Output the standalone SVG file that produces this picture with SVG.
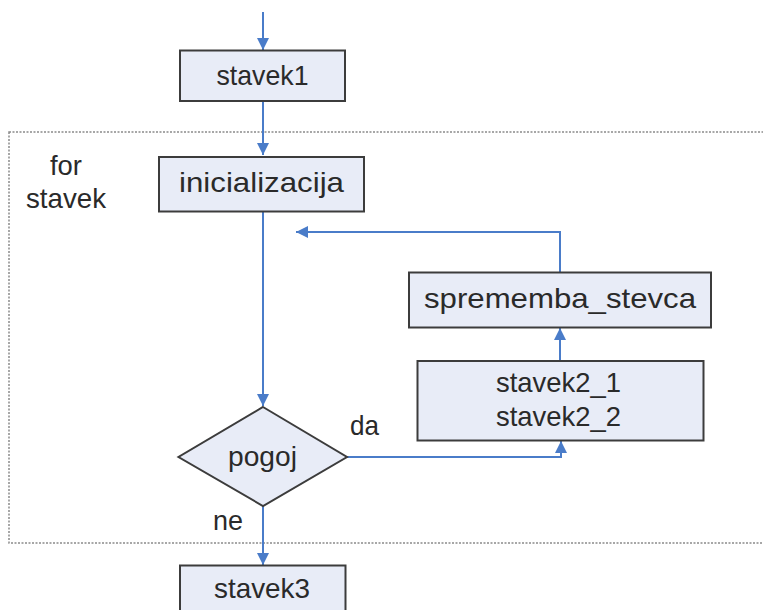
<svg xmlns="http://www.w3.org/2000/svg" width="763" height="610" viewBox="0 0 763 610">
  <style>
    .box { fill: #E8ECF7; stroke: #3C3C3C; stroke-width: 2; }
    .lbl { font-family: "Liberation Sans", Arial, sans-serif; font-size: 28px; fill: #2A2A2A; }
    .mid { text-anchor: middle; }
    .flow { fill: none; stroke: #4A7CC9; stroke-width: 2; marker-end: url(#arrow); }
    .frame { fill: none; stroke: #8A8A8A; stroke-width: 1.5; stroke-dasharray: 2 1.5; }
  </style>
  <defs>
    <marker id="arrow" viewBox="0 0 10 10" refX="10" refY="5" markerWidth="12" markerHeight="12" markerUnits="userSpaceOnUse" orient="auto">
      <path d="M0,0 L10,5 L0,10 z" fill="#4A7CC9"/>
    </marker>
  </defs>
  <rect width="763" height="610" fill="#FFFFFF"/>

  <!-- for-statement frame -->
  <g id="for-frame">
    <rect class="frame" x="9" y="132" width="780" height="411"/>
    <text class="lbl" x="50" y="175" textLength="32" lengthAdjust="spacingAndGlyphs">for</text>
    <text class="lbl" x="26" y="208" textLength="80" lengthAdjust="spacingAndGlyphs">stavek</text>
  </g>

  <!-- connectors -->
  <g id="connectors">
    <path class="flow" d="M263,12 L263,50"/>
    <path class="flow" d="M263,101 L263,155"/>
    <path class="flow" d="M263,212 L263,406"/>
    <path class="flow" d="M347,457 L561,457 L561,441"/>
    <path class="flow" d="M560,361 L560,328"/>
    <path class="flow" d="M560,272 L560,232 L296,232"/>
    <path class="flow" d="M263,506 L263,565"/>
  </g>

  <g id="stavek1">
    <rect class="box" x="180" y="50.5" width="165" height="50.5"/>
    <text class="lbl mid" x="262.5" y="85" textLength="92" lengthAdjust="spacingAndGlyphs">stavek1</text>
  </g>

  <g id="inicializacija">
    <rect class="box" x="159" y="157" width="205" height="54.5"/>
    <text class="lbl mid" x="261.5" y="192" font-size="30" textLength="165" lengthAdjust="spacingAndGlyphs">inicializacija</text>
  </g>

  <g id="sprememba_stevca">
    <rect class="box" x="409" y="272.5" width="302" height="55"/>
    <text class="lbl mid" x="560" y="307.5" font-size="30" textLength="272" lengthAdjust="spacingAndGlyphs">sprememba_stevca</text>
  </g>

  <g id="stavek2">
    <rect class="box" x="417.5" y="361" width="286" height="79.5"/>
    <text class="lbl mid" x="558.5" y="391.5" textLength="125" lengthAdjust="spacingAndGlyphs">stavek2_1</text>
    <text class="lbl mid" x="558.5" y="426" textLength="125" lengthAdjust="spacingAndGlyphs">stavek2_2</text>
  </g>

  <g id="pogoj">
    <polygon class="box" points="263,407 347,457 263,506 178.5,457"/>
    <text class="lbl mid" x="262.5" y="465.5" textLength="69" lengthAdjust="spacingAndGlyphs">pogoj</text>
    <text class="lbl" x="350" y="435" textLength="29" lengthAdjust="spacingAndGlyphs">da</text>
    <text class="lbl" x="213" y="530" textLength="30" lengthAdjust="spacingAndGlyphs">ne</text>
  </g>

  <g id="stavek3">
    <rect class="box" x="180" y="565.5" width="165.5" height="60"/>
    <text class="lbl mid" x="262" y="597.5" textLength="96" lengthAdjust="spacingAndGlyphs">stavek3</text>
  </g>
</svg>
